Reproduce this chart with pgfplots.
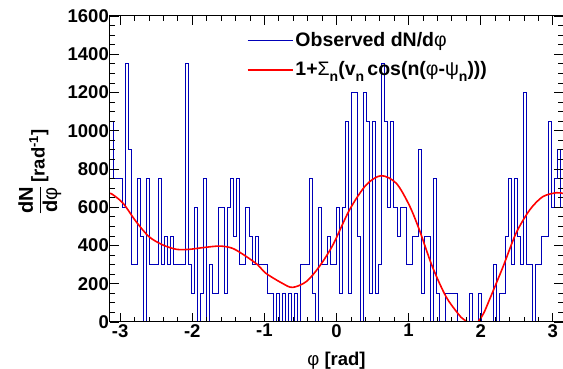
\documentclass[border=0pt]{standalone}
\usepackage{fontspec}
\setmainfont{Liberation Sans}
\usepackage{amsmath}
\usepackage{pgfplots}
\usepackage{pgfplotstable}
\pgfplotsset{compat=1.18}
\definecolor{hblue}{rgb}{0,0,0.72}
\newcommand\sub[1]{\raisebox{-6.5pt}{\fontsize{14}{14}\selectfont #1}}
\pgfplotstableread{
v
1050
750
750
750
600
1350
900
300
300
750
450
0
750
300
300
300
750
300
450
300
450
300
300
300
300
1350
300
150
600
0
150
750
0
300
150
150
600
600
150
600
750
450
750
300
300
600
450
300
450
300
300
300
150
150
0
150
0
150
0
150
0
150
0
300
300
300
750
150
0
600
300
300
450
300
300
600
150
600
1050
150
1200
1200
450
0
1200
1050
150
1050
150
300
1350
1050
600
1050
600
450
600
600
300
300
450
450
900
150
450
450
0
750
150
0
0
150
150
150
150
0
0
0
0
150
0
0
150
0
0
0
0
300
0
150
150
450
750
300
750
450
300
1200
300
300
0
300
300
450
450
1050
600
750
900
600
600
}\histdata
\begin{document}
\fontsize{18.5}{22}\selectfont\bfseries
\begin{tikzpicture}
\useasboundingbox (-110pt,-47pt) rectangle (453pt,322pt);
\begin{axis}[
  scale only axis, width=453pt, height=306pt,
  xmin=-3.14159, xmax=3.14159, ymin=0, ymax=1600,
  xtick={-3,-2,-1,0,1,2,3}, minor x tick num=4,
  ytick={0,200,400,600,800,1000,1200,1400,1600}, minor y tick num=3,
  tick align=inside, xtick pos=both, ytick pos=both,
  major tick length=9pt, minor tick length=5pt,
  every tick/.style={black, line width=0.8pt},
  axis line style={line width=1pt},
  axis on top,
  /pgf/number format/assume math mode=true,
  /pgf/number format/1000 sep={},
  ticklabel style={font=\fontsize{18.5}{22}\selectfont\bfseries},
  yticklabel style={inner xsep=1pt},
  xticklabel style={inner ysep=2pt},
  xlabel={{\mdseries φ} [rad]},
  xlabel style={at={(axis description cs:0.5,-0.097)}, anchor=north, inner sep=0pt},
  ylabel={$\dfrac{\text{\fontsize{20}{20}\selectfont dN}}{\text{\fontsize{20}{20}\selectfont d{\mdseries φ}}}$\,[rad\textsuperscript{-1}]},
  ylabel style={at={(axis description cs:-0.155,0.49)}, anchor=center},
  legend style={draw=none, fill=none, at={(axis description cs:0.295,0.96)}, anchor=north west,
    font=\fontsize{19.5}{23}\selectfont\bfseries, row sep=8pt},
  legend cell align=left,
  legend image code/.code={\draw[#1] (0pt,0pt) -- (45pt,0pt);},
]
\addplot[const plot, hblue, line width=0.8pt] table[x expr={-pi+\coordindex*2*pi/150}, y=v] {\histdata};
\addlegendentry{Observed dN/d{\mdseries φ}}
\addplot[red, line width=1.6pt, smooth] coordinates {
(-3.1416,672) (-3.11,668) (-2.96,621) (-2.78,525) (-2.6,446) (-2.41,403) (-2.22,380)
(-2.04,380) (-1.85,389) (-1.62,397) (-1.44,385) (-1.25,342) (-1.09,298) (-0.98,255)
(-0.75,202) (-0.61,181) (-0.42,211) (-0.24,289) (-0.05,403) (0.18,586) (0.41,716)
(0.62,765) (0.83,725) (1.01,610) (1.15,481) (1.33,289) (1.52,132) (1.70,37) (1.76,15)
(1.82,0) (1.89,-12) (1.96,0) (2.04,45) (2.12,115) (2.31,289) (2.49,464) (2.68,586)
(2.86,655) (3.05,676) (3.1416,672)
};
\addlegendentry{1+{\mdseries Σ}\sub{n}(v\sub{n}\,cos(n({\mdseries φ}-{\mdseries ψ}\sub{n})))}
\end{axis}
\end{tikzpicture}
\end{document}
